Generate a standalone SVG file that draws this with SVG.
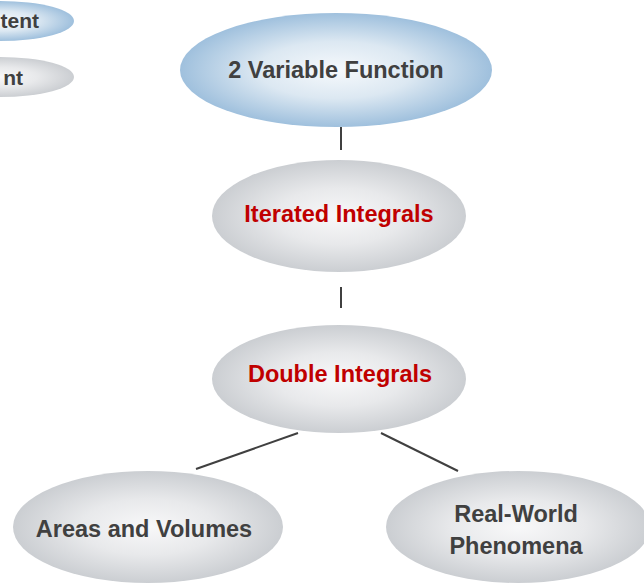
<svg xmlns="http://www.w3.org/2000/svg" width="644" height="583" viewBox="0 0 644 583">
<defs>
<radialGradient id="gBlue" cx="50%" cy="50%" r="50%">
<stop offset="0" stop-color="#f6f9fc"/>
<stop offset="0.5" stop-color="#dce8f2"/>
<stop offset="1" stop-color="#9fc0dd"/>
</radialGradient>
<radialGradient id="gGrey" cx="50%" cy="50%" r="50%">
<stop offset="0" stop-color="#f8f8f9"/>
<stop offset="0.5" stop-color="#e8e9eb"/>
<stop offset="1" stop-color="#cbced2"/>
</radialGradient>
</defs>
<style>
.lbl{font-family:"Liberation Sans",Arial,sans-serif;font-weight:bold;font-size:23.5px;text-anchor:middle;fill:#404040}
.red{fill:#c00000}
.leg{font-family:"Liberation Sans",Arial,sans-serif;font-weight:bold;font-size:21px;text-anchor:end;fill:#404040}
.conn line{stroke:#404040;stroke-width:2}
</style>
<g id="legend-1"><ellipse cx="0" cy="21" rx="74" ry="20" fill="url(#gBlue)"/><text class="leg" x="39" y="28">tent</text></g>
<g id="legend-2"><ellipse cx="0" cy="77" rx="74" ry="20" fill="url(#gGrey)"/><text class="leg" x="23" y="85">nt</text></g>
<g class="conn" id="connectors">
<line x1="341" y1="127" x2="341" y2="150"/>
<line x1="341" y1="287" x2="341" y2="308"/>
<line x1="298" y1="433" x2="196" y2="469"/>
<line x1="381" y1="433" x2="458" y2="471"/>
</g>
<g id="n-2vf"><ellipse cx="336" cy="70" rx="156" ry="57" fill="url(#gBlue)"/><text class="lbl" x="336" y="78">2 Variable Function</text></g>
<g id="n-iter"><ellipse cx="339" cy="216" rx="127" ry="56" fill="url(#gGrey)"/><text class="lbl red" x="339" y="222">Iterated Integrals</text></g>
<g id="n-double"><ellipse cx="339" cy="379" rx="127" ry="54" fill="url(#gGrey)"/><text class="lbl red" x="340" y="382">Double Integrals</text></g>
<g id="n-areas"><ellipse cx="148" cy="527" rx="135" ry="56" fill="url(#gGrey)"/><text class="lbl" x="144" y="537">Areas and Volumes</text></g>
<g id="n-real"><ellipse cx="518" cy="527" rx="132" ry="56" fill="url(#gGrey)"/><text class="lbl" x="516" y="522">Real-World</text><text class="lbl" x="516" y="554">Phenomena</text></g>
</svg>
